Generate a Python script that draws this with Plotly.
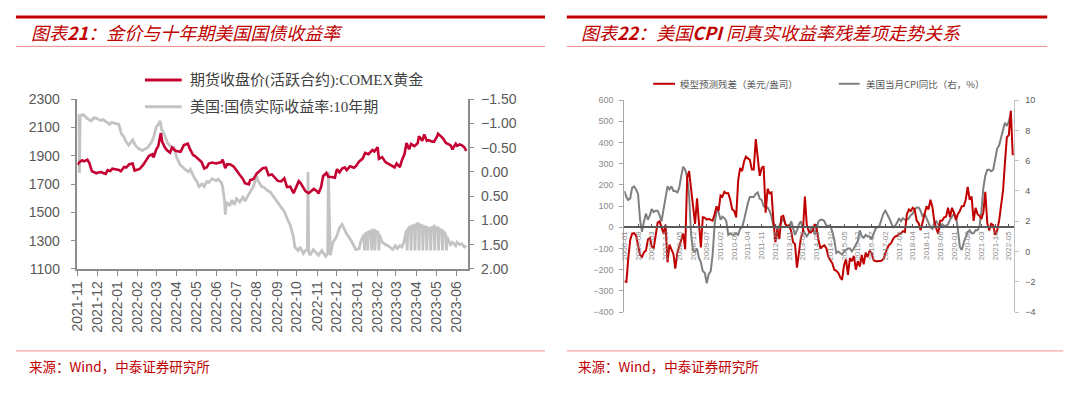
import plotly.graph_objects as go

# ---------------- Left chart data: gold price vs 10Y real yield ----------------
gold = [
    ("2021-11-01", 1836), ("2021-11-04", 1855), ("2021-11-08", 1868), ("2021-11-11", 1860),
    ("2021-11-16", 1872), ("2021-11-19", 1850), ("2021-11-23", 1790), ("2021-11-26", 1785),
    ("2021-11-30", 1776), ("2021-12-03", 1782), ("2021-12-07", 1785), ("2021-12-10", 1778),
    ("2021-12-14", 1772), ("2021-12-17", 1798), ("2021-12-21", 1792), ("2021-12-24", 1808),
    ("2021-12-29", 1805), ("2022-01-03", 1800), ("2022-01-06", 1790), ("2022-01-11", 1820),
    ("2022-01-14", 1816), ("2022-01-19", 1840), ("2022-01-24", 1845), ("2022-01-27", 1795),
    ("2022-02-01", 1802), ("2022-02-04", 1808), ("2022-02-09", 1835), ("2022-02-14", 1868),
    ("2022-02-18", 1900), ("2022-02-23", 1910), ("2022-02-25", 1888), ("2022-03-01", 1945),
    ("2022-03-04", 1968), ("2022-03-08", 2060), ("2022-03-10", 1998), ("2022-03-14", 1960),
    ("2022-03-17", 1940), ("2022-03-22", 1922), ("2022-03-25", 1958), ("2022-03-30", 1935),
    ("2022-04-04", 1930), ("2022-04-07", 1928), ("2022-04-12", 1975), ("2022-04-18", 1985),
    ("2022-04-21", 1950), ("2022-04-26", 1905), ("2022-04-29", 1898), ("2022-05-04", 1875),
    ("2022-05-09", 1855), ("2022-05-13", 1810), ("2022-05-17", 1818), ("2022-05-20", 1845),
    ("2022-05-25", 1852), ("2022-05-31", 1845), ("2022-06-03", 1850), ("2022-06-08", 1855),
    ("2022-06-10", 1872), ("2022-06-14", 1812), ("2022-06-17", 1840), ("2022-06-22", 1838),
    ("2022-06-27", 1822), ("2022-07-01", 1800), ("2022-07-06", 1765), ("2022-07-11", 1735),
    ("2022-07-14", 1706), ("2022-07-20", 1698), ("2022-07-22", 1728), ("2022-07-27", 1735),
    ("2022-08-01", 1775), ("2022-08-05", 1790), ("2022-08-10", 1812), ("2022-08-15", 1815),
    ("2022-08-19", 1762), ("2022-08-24", 1768), ("2022-08-29", 1745), ("2022-09-02", 1722),
    ("2022-09-07", 1718), ("2022-09-12", 1740), ("2022-09-16", 1678), ("2022-09-21", 1682),
    ("2022-09-26", 1635), ("2022-09-29", 1668), ("2022-10-04", 1720), ("2022-10-07", 1705),
    ("2022-10-11", 1675), ("2022-10-14", 1650), ("2022-10-19", 1635), ("2022-10-24", 1655),
    ("2022-10-27", 1665), ("2022-11-01", 1648), ("2022-11-03", 1633), ("2022-11-07", 1680),
    ("2022-11-10", 1755), ("2022-11-15", 1778), ("2022-11-18", 1752), ("2022-11-23", 1750),
    ("2022-11-28", 1745), ("2022-12-01", 1805), ("2022-12-05", 1782), ("2022-12-09", 1810),
    ("2022-12-13", 1818), ("2022-12-16", 1798), ("2022-12-21", 1825), ("2022-12-27", 1815),
    ("2022-12-30", 1826), ("2023-01-04", 1860), ("2023-01-09", 1878), ("2023-01-13", 1920),
    ("2023-01-18", 1910), ("2023-01-24", 1940), ("2023-01-27", 1930), ("2023-02-01", 1960),
    ("2023-02-03", 1878), ("2023-02-08", 1890), ("2023-02-13", 1855), ("2023-02-17", 1845),
    ("2023-02-22", 1830), ("2023-02-27", 1818), ("2023-03-02", 1845), ("2023-03-07", 1820),
    ("2023-03-10", 1868), ("2023-03-14", 1912), ("2023-03-17", 1990), ("2023-03-21", 1945),
    ("2023-03-24", 1983), ("2023-03-29", 1968), ("2023-04-03", 1988), ("2023-04-05", 2038),
    ("2023-04-10", 2005), ("2023-04-13", 2050), ("2023-04-17", 2005), ("2023-04-20", 2010),
    ("2023-04-25", 2000), ("2023-04-28", 2000), ("2023-05-03", 2040), ("2023-05-04", 2055),
    ("2023-05-09", 2035), ("2023-05-12", 2020), ("2023-05-16", 1990), ("2023-05-19", 1982),
    ("2023-05-23", 1975), ("2023-05-26", 1945), ("2023-05-31", 1985), ("2023-06-02", 1970),
    ("2023-06-06", 1980), ("2023-06-09", 1975), ("2023-06-13", 1960), ("2023-06-16", 1935),
]

real_yield = [
    ("2021-11-01", -1.17), ("2021-11-03", -1.15), ("2021-11-04", 0.02), ("2021-11-05", -1.16),
    ("2021-11-10", -1.18), ("2021-11-16", -1.10), ("2021-11-22", -1.05), ("2021-11-26", -1.12),
    ("2021-12-01", -1.10), ("2021-12-06", -1.06), ("2021-12-10", -1.08), ("2021-12-15", -1.02),
    ("2021-12-20", -0.98), ("2021-12-23", -1.02), ("2021-12-29", -1.00), ("2022-01-03", -0.98),
    ("2022-01-05", -0.88), ("2022-01-07", -0.78), ("2022-01-10", -0.74), ("2022-01-14", -0.62),
    ("2022-01-18", -0.55), ("2022-01-24", -0.66), ("2022-01-28", -0.55), ("2022-02-02", -0.48),
    ("2022-02-08", -0.44), ("2022-02-11", -0.47), ("2022-02-16", -0.50), ("2022-02-22", -0.62),
    ("2022-02-25", -0.72), ("2022-03-01", -0.93), ("2022-03-04", -0.98), ("2022-03-07", -1.05),
    ("2022-03-09", -0.88), ("2022-03-14", -0.75), ("2022-03-18", -0.60), ("2022-03-23", -0.52),
    ("2022-03-28", -0.50), ("2022-04-01", -0.30), ("2022-04-06", -0.15), ("2022-04-11", -0.08),
    ("2022-04-14", -0.05), ("2022-04-19", 0.00), ("2022-04-22", -0.05), ("2022-04-27", 0.10),
    ("2022-05-02", 0.20), ("2022-05-05", 0.30), ("2022-05-10", 0.25), ("2022-05-13", 0.30),
    ("2022-05-17", 0.20), ("2022-05-20", 0.22), ("2022-05-25", 0.14), ("2022-05-31", 0.18),
    ("2022-06-03", 0.15), ("2022-06-08", 0.22), ("2022-06-10", 0.30), ("2022-06-13", 0.60),
    ("2022-06-14", 0.88), ("2022-06-16", 0.62), ("2022-06-21", 0.70), ("2022-06-24", 0.58),
    ("2022-06-28", 0.68), ("2022-07-01", 0.55), ("2022-07-06", 0.62), ("2022-07-11", 0.52),
    ("2022-07-14", 0.60), ("2022-07-19", 0.48), ("2022-07-22", 0.42), ("2022-07-27", 0.30),
    ("2022-08-01", 0.08), ("2022-08-03", 0.18), ("2022-08-08", 0.30), ("2022-08-12", 0.32),
    ("2022-08-17", 0.38), ("2022-08-22", 0.42), ("2022-08-26", 0.50), ("2022-08-31", 0.60),
    ("2022-09-06", 0.72), ("2022-09-12", 0.82), ("2022-09-16", 0.95), ("2022-09-21", 1.10),
    ("2022-09-26", 1.35), ("2022-09-28", 1.55), ("2022-10-03", 1.62), ("2022-10-06", 1.55),
    ("2022-10-11", 1.68), ("2022-10-14", 1.62), ("2022-10-17", 1.60), ("2022-10-18", 0.00),
    ("2022-10-19", 1.65), ("2022-10-21", 1.72), ("2022-10-26", 1.60), ("2022-10-31", 1.68),
    ("2022-11-03", 1.72), ("2022-11-08", 1.62), ("2022-11-11", 1.68), ("2022-11-14", 1.74),
    ("2022-11-17", 1.68), ("2022-11-18", 0.00), ("2022-11-21", 1.72), ("2022-11-25", 1.45),
    ("2022-11-30", 1.35), ("2022-12-05", 1.15), ("2022-12-09", 1.08), ("2022-12-13", 1.20),
    ("2022-12-16", 1.28), ("2022-12-21", 1.38), ("2022-12-27", 1.52), ("2022-12-30", 1.60),
    ("2023-01-04", 1.58), ("2023-01-06", 1.45), ("2023-01-10", 1.32), ("2023-01-11", 1.30),
    ("2023-01-12", 1.62), ("2023-01-13", 1.28), ("2023-01-16", 1.25), ("2023-01-17", 1.62),
    ("2023-01-18", 1.24), ("2023-01-22", 1.22), ("2023-01-23", 1.62), ("2023-01-24", 1.20),
    ("2023-01-27", 1.20), ("2023-01-28", 1.62), ("2023-01-29", 1.22), ("2023-02-02", 1.25),
    ("2023-02-03", 1.62), ("2023-02-04", 1.30), ("2023-02-08", 1.45), ("2023-02-13", 1.50),
    ("2023-02-17", 1.52), ("2023-02-22", 1.58), ("2023-02-24", 1.60), ("2023-02-28", 1.52),
    ("2023-03-03", 1.58), ("2023-03-07", 1.52), ("2023-03-10", 1.55), ("2023-03-13", 1.45),
    ("2023-03-15", 1.30), ("2023-03-17", 1.20), ("2023-03-18", 1.62), ("2023-03-19", 1.18),
    ("2023-03-23", 1.12), ("2023-03-24", 1.62), ("2023-03-25", 1.12), ("2023-03-29", 1.10),
    ("2023-03-30", 1.62), ("2023-03-31", 1.10), ("2023-04-04", 1.05), ("2023-04-05", 1.62),
    ("2023-04-06", 1.08), ("2023-04-10", 1.12), ("2023-04-11", 1.62), ("2023-04-12", 1.12),
    ("2023-04-16", 1.15), ("2023-04-17", 1.62), ("2023-04-18", 1.15), ("2023-04-22", 1.18),
    ("2023-04-23", 1.62), ("2023-04-24", 1.15), ("2023-04-28", 1.12), ("2023-04-29", 1.62),
    ("2023-04-30", 1.15), ("2023-05-04", 1.15), ("2023-05-05", 1.62), ("2023-05-06", 1.18),
    ("2023-05-10", 1.20), ("2023-05-11", 1.62), ("2023-05-12", 1.22), ("2023-05-16", 1.30),
    ("2023-05-17", 1.62), ("2023-05-18", 1.35), ("2023-05-23", 1.50), ("2023-05-26", 1.45),
    ("2023-05-31", 1.52), ("2023-06-02", 1.45), ("2023-06-06", 1.50), ("2023-06-09", 1.48),
    ("2023-06-13", 1.55), ("2023-06-16", 1.52),
]

gold_dates = [d for d, _ in gold]
gold_values = [v for _, v in gold]
ry_dates = [d for d, _ in real_yield]
ry_values = [v for _, v in real_yield]

# ---------------- Right chart data: monthly, 2006-01 onward ----------------
months = [f"{y}-{m:02d}" for y in range(2006, 2023) for m in range(1, 13)][:199]

cpi_yoy = [
    4.0, 3.6, 3.4, 3.5, 4.2, 4.3, 4.1, 3.8, 2.1, 1.3, 2.0, 2.5,
    2.1, 2.4, 2.8, 2.6, 2.7, 2.7, 2.4, 2.0, 2.8, 3.5, 4.3, 4.1,
    4.3, 4.0, 4.0, 3.9, 4.2, 5.0, 5.6, 5.4, 4.9, 3.7, 1.1, 0.1,
    0.0, 0.2, -0.4, -0.7, -1.3, -1.4, -2.1, -1.5, -1.3, -0.2, 1.8, 2.7,
    2.6, 2.1, 2.3, 2.2, 2.0, 1.1, 1.2, 1.1, 1.1, 1.2, 1.1, 1.5,
    1.6, 2.1, 2.7, 3.2, 3.6, 3.6, 3.6, 3.8, 3.9, 3.5, 3.4, 3.0,
    2.9, 2.9, 2.7, 2.3, 1.7, 1.7, 1.4, 1.7, 2.0, 2.2, 1.8, 1.7,
    1.6, 2.0, 1.5, 1.1, 1.4, 1.8, 2.0, 1.5, 1.2, 1.0, 1.2, 1.5,
    1.6, 1.1, 1.5, 2.0, 2.1, 2.1, 2.0, 1.7, 1.7, 1.7, 1.3, 0.8,
    -0.1, 0.0, -0.1, -0.2, 0.0, 0.1, 0.2, 0.2, 0.0, 0.2, 0.5, 0.7,
    1.4, 1.0, 0.9, 1.1, 1.0, 1.0, 0.8, 1.1, 1.5, 1.6, 1.7, 2.1,
    2.5, 2.7, 2.4, 2.2, 1.9, 1.6, 1.7, 1.9, 2.2, 2.0, 2.2, 2.1,
    2.1, 2.2, 2.4, 2.5, 2.8, 2.9, 2.9, 2.7, 2.3, 2.5, 2.2, 1.9,
    1.6, 1.5, 1.9, 2.0, 1.8, 1.6, 1.8, 1.7, 1.7, 1.8, 2.1, 2.3,
    2.5, 2.3, 1.5, 0.3, 0.1, 0.6, 1.0, 1.3, 1.4, 1.2, 1.2, 1.4,
    1.4, 1.7, 2.6, 4.2, 5.0, 5.4, 5.4, 5.3, 5.4, 6.2, 6.8, 7.0,
    7.5, 7.9, 8.5, 8.3, 8.6, 9.1,
]

residual = [
    -255, -258, -150, -60, -30, -28, -40, -85, -130, -140, -118, -110,
    -58, -50, -90, -97, -45, 22, 28, -6, -30, 12, -165, -82,
    -105, -127, -195, -120, -90, -60, -30, -104, 235, 265, 175, 84,
    16, 137, 24, -95, 47, 45, 36, 40, 35, 31, 62, 99,
    77, 150, 145, 167, 160, 160, 130, 84, 77, 47, 220, 280,
    265, 311, 333, 325, 318, 273, 273, 416, 326, 243, 280, 288,
    69, 182, 160, 165, 30, -70, -10, -55, 50, 54, 16, 5,
    10, -20, -70, -80, -190, -110, -50, -25, 145, 10, -20, -25,
    -15, 15, -5, -60, -100, -90, -85, -100, -140, -155, -170, -200,
    -205, -215, -235, -248, -180, -150, -225, -145, -160, -135, -200, -160,
    -185, -130, -175, -120, -140, -112, -120, -155, -160, -160, -158, -158,
    -150, -120, -100, -82, -75, -55, -44, -40, -32, -29, -18, -22,
    62, 84, 77, 92, 85, 31, 20, -14, 24, 62, 99, 84,
    130, 95, 31, -6, -30, 31, 31, 47, 50, 92, 47, 92,
    69, 35, 62, 77, 99, 100, 130, 190, 130, 145, 30, 92,
    62, 54, 39, 70, 167, 20, -15, 16, 10, -36, -15, 30,
    107, 175, 300, 425, 435, 550, 340,
]

# ---------------- Layout helpers (pixel -> paper) ----------------
W, H = 1080, 393
def px(x):
    return x / W
def py(y):
    return 1 - y / H

RED_TITLE = "#C00000"
GOLD_RED = "#C40032"
LIGHT_GRAY = "#C3C3C3"
CPI_GRAY = "#7F7F7F"
RESID_RED = "#C00000"
AX_FONT = "Liberation Sans, Arial, sans-serif"
CJK_FONT = "Noto Sans CJK SC, sans-serif"
SERIF_CJK = "Liberation Serif, Noto Sans CJK SC, serif"

fig = go.Figure()

# Left chart traces (gray on base axis, red on overlay so it sits on top)
fig.add_trace(go.Scatter(x=ry_dates, y=ry_values, mode="lines", xaxis="x", yaxis="y",
                         line=dict(color=LIGHT_GRAY, width=2.8), showlegend=False,
                         name="美国:国债实际收益率:10年期"))
fig.add_trace(go.Scatter(x=gold_dates, y=gold_values, mode="lines", xaxis="x", yaxis="y2",
                         line=dict(color=GOLD_RED, width=2.6), showlegend=False,
                         name="期货收盘价(活跃合约):COMEX黄金"))

# Right chart traces
fig.add_trace(go.Scatter(x=months[:len(cpi_yoy)], y=cpi_yoy, mode="lines", xaxis="x3", yaxis="y3",
                         line=dict(color=CPI_GRAY, width=2), showlegend=False,
                         name="美国当月CPI同比（右，%）"))
fig.add_trace(go.Scatter(x=months[:len(residual)], y=residual, mode="lines", xaxis="x3", yaxis="y4",
                         line=dict(color=RESID_RED, width=2), showlegend=False,
                         name="模型预测残差（美元/盎司）"))

# Right chart geometry
r_top, r_bot = 96, 317
r_zero = r_top + (600 / 1000) * (r_bot - r_top)

fig.update_layout(
    width=W, height=H, margin=dict(l=0, r=0, t=0, b=0),
    paper_bgcolor="white", plot_bgcolor="white",
    xaxis=dict(domain=[px(70), px(463)], anchor="y", type="date",
               range=["2021-11-01", "2023-06-18"], dtick="M1", tick0="2021-11-01",
               tickformat="%Y-%m", tickangle=-90,
               tickfont=dict(family=AX_FONT, size=14, color="#595959"),
               showline=True, linecolor="#8C8C8C", linewidth=1.5,
               ticks="outside", ticklen=5, tickcolor="#8C8C8C",
               showgrid=False, zeroline=False),
    yaxis=dict(domain=[py(272), py(95)], anchor="x", side="right",
               range=[2.0, -1.5], dtick=0.5, tick0=0, tickformat=".2f",
               tickfont=dict(family=AX_FONT, size=14, color="#595959"),
               showline=True, linecolor="#8C8C8C", linewidth=1.5,
               ticks="outside", ticklen=5, tickcolor="#8C8C8C",
               showgrid=False, zeroline=False, ticklabelstandoff=4),
    yaxis2=dict(overlaying="y", anchor="x", side="left",
                range=[1100, 2300], dtick=200, tick0=1100,
                tickfont=dict(family=AX_FONT, size=14, color="#595959"),
                showline=True, linecolor="#8C8C8C", linewidth=1.5,
                ticks="outside", ticklen=5, tickcolor="#8C8C8C",
                showgrid=False, zeroline=False, ticklabelstandoff=8),
    xaxis3=dict(domain=[px(621), px(1014)], anchor="free", position=py(r_zero), type="date",
                range=["2006-01-01", "2022-07-28"], dtick="M7", tick0="2006-01-01",
                tickformat="%Y-%m", tickangle=-90,
                tickfont=dict(family=AX_FONT, size=8, color="#8C8C8C"),
                showline=True, linecolor="#595959", linewidth=1.5,
                ticks="inside", ticklen=3, tickcolor="#595959",
                showgrid=False, zeroline=False),
    yaxis3=dict(domain=[py(r_bot), py(r_top)], anchor="x3", side="right",
                range=[-4, 10], dtick=2,
                tickfont=dict(family=AX_FONT, size=9, color="#595959"),
                showline=True, linecolor="#BFBFBF", linewidth=1,
                ticks="outside", ticklen=4, tickcolor="#BFBFBF",
                showgrid=False, zeroline=False, ticklabelstandoff=4),
    yaxis4=dict(overlaying="y3", anchor="x3", side="left",
                range=[-400, 600], dtick=100,
                tickfont=dict(family=AX_FONT, size=9, color="#8C8C8C"),
                showline=True, linecolor="#A6A6A6", linewidth=1,
                ticks="outside", ticklen=4, tickcolor="#A6A6A6",
                showgrid=False, zeroline=False, ticklabelstandoff=4),
)

shapes = []
annotations = []

def hline(x0, x1, y, color, width):
    shapes.append(dict(type="line", xref="paper", yref="paper",
                       x0=px(x0), x1=px(x1), y0=py(y), y1=py(y),
                       line=dict(color=color, width=width)))

def text(x, y, s, size, color, family, xanchor="left", style="normal"):
    annotations.append(dict(xref="paper", yref="paper", x=px(x), y=py(y), text=s,
                            showarrow=False, xanchor=xanchor, yanchor="middle",
                            font=dict(size=size, color=color, family=family, style=style)))

# Header / footer rules
hline(8, 541, 9.5, RED_TITLE, 3)
hline(8, 541, 40, "#EE8888", 1)
hline(563, 1047, 9.5, RED_TITLE, 3)
hline(563, 1047, 40, "#EE8888", 1)
hline(8, 541, 357.5, "#F09090", 1)
hline(563, 1063, 357.5, "#F09090", 1)

# Titles
text(21, 25, "图表<b>21</b>：金价与十年期美国国债收益率", 18, RED_TITLE, CJK_FONT, style="italic")
text(575, 25, "图表<b>22</b>：美国<b>CPI</b> 同真实收益率残差项走势关系", 18, RED_TITLE, CJK_FONT, style="italic")

# Sources
text(19, 373, "来源：Wind，中泰证券研究所", 13.5, RED_TITLE, CJK_FONT)
text(572, 373, "来源：Wind，中泰证券研究所", 13.5, RED_TITLE, CJK_FONT)

# Left legend
hline(138, 175, 75, GOLD_RED, 3)
text(181, 75, "期货收盘价(活跃合约):COMEX黄金", 15, "#404040", SERIF_CJK)
hline(138, 175, 103, LIGHT_GRAY, 3)
text(181, 103, "美国:国债实际收益率:10年期", 15, "#404040", SERIF_CJK)

# Right legend
hline(650, 672, 79, RESID_RED, 2)
text(675, 79, "模型预测残差（美元/盎司）", 9.5, "#595959", CJK_FONT)
hline(837, 858, 79, CPI_GRAY, 2)
text(862, 79, "美国当月CPI同比（右，%）", 9.5, "#595959", CJK_FONT)

fig.update_layout(shapes=shapes, annotations=annotations)

fig.write_html("out.html", config={"displayModeBar": False},
               post_script="document.body.style.margin='0px';")
